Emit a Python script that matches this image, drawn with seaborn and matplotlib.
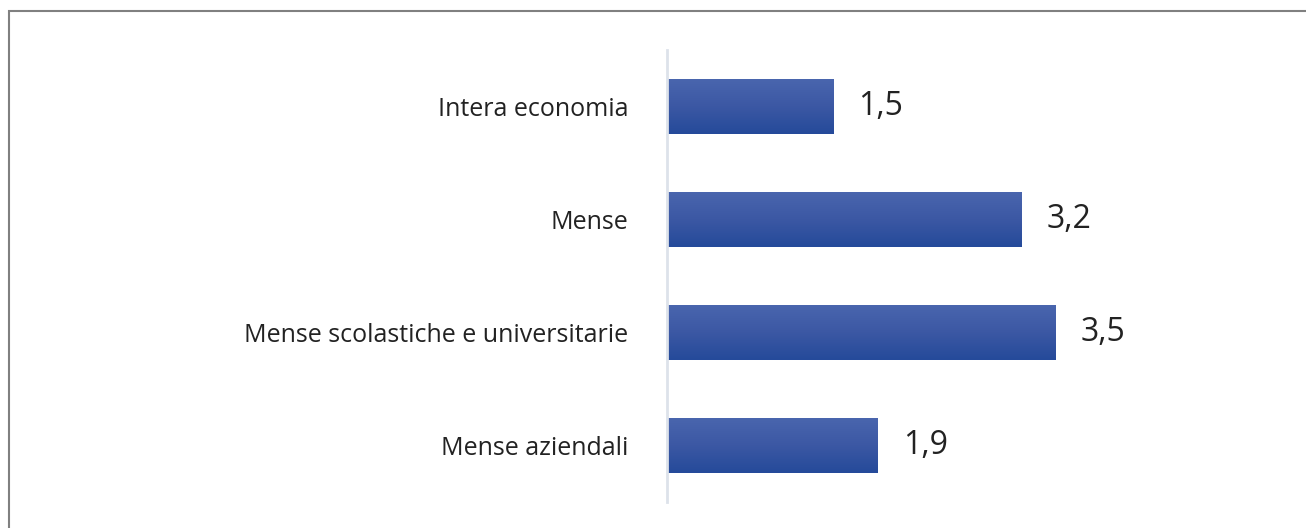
import numpy as np
import pandas as pd
import matplotlib
matplotlib.use("Agg")
import matplotlib.pyplot as plt
from matplotlib.colors import LinearSegmentedColormap
from matplotlib.patches import Rectangle
import seaborn as sns

categories = ["Intera economia", "Mense", "Mense scolastiche e universitarie", "Mense aziendali"]
values = [1.5, 3.2, 3.5, 1.9]

sns.set_style("white")
plt.rcParams["font.family"] = ["Open Sans", "DejaVu Sans"]

df = pd.DataFrame({"categoria": categories, "valore": values})

fig = plt.figure(figsize=(13.06, 5.28), dpi=100)
ax = fig.add_axes([0.5107, 0.0492, 0.467, 0.8561])

sns.barplot(data=df, x="valore", y="categoria", orient="h", color="#3a58a6",
            width=0.49, ax=ax)

# vertical gradient on each bar, lighter on top, darker at bottom
grad = LinearSegmentedColormap.from_list("g", ["#254a9a", "#3c58a4", "#4a66ae"])
for p in ax.patches:
    x0, y0 = p.get_x(), p.get_y()
    w, h = p.get_width(), p.get_height()
    im = ax.imshow(np.linspace(0, 1, 64).reshape(-1, 1), cmap=grad, aspect="auto",
                   extent=(x0, x0 + w, y0, y0 + h), zorder=p.get_zorder() + 0.1,
                   origin="upper")
    im.set_clip_path(p)
    p.set_edgecolor("none")

ax.set_xlim(0, 5.5)
ax.set_ylim(3.5, -0.5)
ax.set_xlabel("")
ax.set_ylabel("")
ax.set_xticks([])
ax.tick_params(axis="y", length=0, pad=28, labelsize=18, labelcolor="#222222")
for s in ["top", "right", "bottom"]:
    ax.spines[s].set_visible(False)
ax.spines["left"].set_color("#dde2ea")
ax.spines["left"].set_linewidth(2)

labels = [f"{v:.1f}".replace(".", ",") for v in values]
ax.bar_label(ax.containers[0], labels=labels, padding=18, fontsize=23, color="#222222")

# outer frame (only top and left edges fall inside the image)
fig.patches.append(Rectangle((9 / 1306, -0.1), 1.2, 1.1 - 11 / 528, transform=fig.transFigure,
                             fill=False, edgecolor="#808080", linewidth=1.5))

fig.savefig("out.png", dpi=100)
